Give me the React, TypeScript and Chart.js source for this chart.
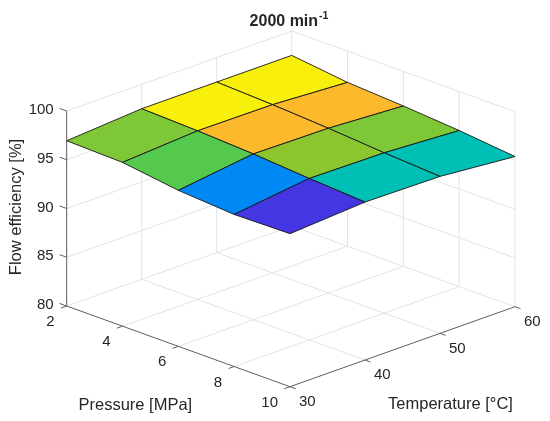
import React, { useEffect, useRef } from "react";
import { Chart, registerables } from "chart.js";

Chart.register(...registerables);

// ---------------- data ----------------
const PRESSURE = [2, 4, 6, 8, 10]; // MPa
const TEMPERATURE = [30, 40, 50, 60]; // °C
// flow efficiency [%], one array per pressure, values over TEMPERATURE
const EFF_P2 = [96.95, 97.5, 97.5, 97.5];
const EFF_P4 = [96.8, 97.3, 97.25, 96.8];
const EFF_P6 = [96.0, 97.0, 96.9, 96.45];
const EFF_P8 = [95.6, 96.55, 96.45, 96.0];
const EFF_P10 = [95.7, 96.2, 96.1, 95.4];
const EFFICIENCY = [EFF_P2, EFF_P4, EFF_P6, EFF_P8, EFF_P10];

const PRESSURE_TICKS = [2, 4, 6, 8, 10];
const TEMPERATURE_TICKS = [30, 40, 50, 60];
const EFF_TICKS = [80, 85, 90, 95, 100];
const P_LIM = [2, 10];
const T_LIM = [30, 60];
const Z_LIM = [80, 100];

const TITLE = "2000 min";
const TITLE_SUP = "-1";
const X_LABEL = "Pressure [MPa]";
const Y_LABEL = "Temperature [°C]";
const Z_LABEL = "Flow efficiency [%]";

// ---------------- view (orthographic projection, canvas units) ----------------
const VIEW = { ox: 66.7, oy: 306, px: 223.3, py: 80.7, tx: 225, ty: -80, zy: -195 };

function project(p: number, t: number, z: number) {
  const u = (p - P_LIM[0]) / (P_LIM[1] - P_LIM[0]);
  const v = (t - T_LIM[0]) / (T_LIM[1] - T_LIM[0]);
  const w = (z - Z_LIM[0]) / (Z_LIM[1] - Z_LIM[0]);
  return {
    x: VIEW.ox + u * VIEW.px + v * VIEW.tx,
    y: VIEW.oy + u * VIEW.py + v * VIEW.ty + w * VIEW.zy,
  };
}

// parula-like colormap
const CMAP: [number, string][] = [
  [0, "#3d26a8"],
  [0.095, "#4536e3"],
  [0.286, "#0088f5"],
  [0.5, "#00bfb5"],
  [0.55, "#00bfb5"],
  [0.667, "#55c94e"],
  [0.71, "#7ec838"],
  [0.74, "#7ec838"],
  [0.762, "#8cc52e"],
  [0.88, "#fcb92c"],
  [0.91, "#fcb92c"],
  [1, "#f8f00a"],
];

function hex(c: string) {
  return [1, 3, 5].map((i) => parseInt(c.slice(i, i + 2), 16));
}

function colormap(t: number) {
  t = Math.max(0, Math.min(1, t));
  for (let k = 1; k < CMAP.length; k++) {
    if (t <= CMAP[k][0]) {
      const [t0, c0] = CMAP[k - 1];
      const [t1, c1] = CMAP[k];
      const f = t1 === t0 ? 0 : (t - t0) / (t1 - t0);
      const a = hex(c0);
      const b = hex(c1);
      const m = a.map((x, i) => Math.round(x + (b[i] - x) * f));
      return `rgb(${m[0]},${m[1]},${m[2]})`;
    }
  }
  return CMAP[CMAP.length - 1][1];
}

const GRID = "#e3e3e3";
const AXIS = "#5e5e5e";
const TEXT = "#262626";
const FONT = '"Liberation Sans", Arial, Helvetica, sans-serif';

export default function App() {
  const ref = useRef<HTMLCanvasElement | null>(null);

  useEffect(() => {
    if (!ref.current) return;
    const draw: any[] = [];
    const seg = (a: any, b: any, color: string, width: number) =>
      draw.push({
        type: "line",
        data: [a, b],
        borderColor: color,
        borderWidth: width,
        pointRadius: 0,
        fill: false,
        tension: 0,
      });
    const P = (p: number, t: number, z: number) => project(p, t, z);

    // grid: floor
    PRESSURE_TICKS.filter((p) => p !== P_LIM[1]).forEach((p) =>
      seg(P(p, T_LIM[0], Z_LIM[0]), P(p, T_LIM[1], Z_LIM[0]), GRID, 1)
    );
    TEMPERATURE_TICKS.filter((t) => t !== T_LIM[0]).forEach((t) =>
      seg(P(P_LIM[0], t, Z_LIM[0]), P(P_LIM[1], t, Z_LIM[0]), GRID, 1)
    );
    // grid: wall at P = min
    TEMPERATURE_TICKS.filter((t) => t !== T_LIM[0]).forEach((t) =>
      seg(P(P_LIM[0], t, Z_LIM[0]), P(P_LIM[0], t, Z_LIM[1]), GRID, 1)
    );
    EFF_TICKS.filter((z) => z !== Z_LIM[0]).forEach((z) =>
      seg(P(P_LIM[0], T_LIM[0], z), P(P_LIM[0], T_LIM[1], z), GRID, 1)
    );
    // grid: wall at T = max
    PRESSURE_TICKS.filter((p) => p !== P_LIM[0]).forEach((p) =>
      seg(P(p, T_LIM[1], Z_LIM[0]), P(p, T_LIM[1], Z_LIM[1]), GRID, 1)
    );
    EFF_TICKS.filter((z) => z !== Z_LIM[0]).forEach((z) =>
      seg(P(P_LIM[0], T_LIM[1], z), P(P_LIM[1], T_LIM[1], z), GRID, 1)
    );

    // axes
    seg(P(P_LIM[0], T_LIM[0], Z_LIM[0]), P(P_LIM[1], T_LIM[0], Z_LIM[0]), AXIS, 1);
    seg(P(P_LIM[1], T_LIM[0], Z_LIM[0]), P(P_LIM[1], T_LIM[1], Z_LIM[0]), AXIS, 1);
    seg(P(P_LIM[0], T_LIM[0], Z_LIM[0]), P(P_LIM[0], T_LIM[0], Z_LIM[1]), AXIS, 1);
    const tl = 0.025;
    PRESSURE_TICKS.forEach((p) =>
      seg(P(p, T_LIM[0], Z_LIM[0]), P(p, T_LIM[0] - tl * (T_LIM[1] - T_LIM[0]), Z_LIM[0]), AXIS, 1)
    );
    TEMPERATURE_TICKS.forEach((t) =>
      seg(P(P_LIM[1], t, Z_LIM[0]), P(P_LIM[1] + tl * (P_LIM[1] - P_LIM[0]), t, Z_LIM[0]), AXIS, 1)
    );
    EFF_TICKS.forEach((z) =>
      seg(P(P_LIM[0], T_LIM[0], z), P(P_LIM[0] - 0.032 * (P_LIM[1] - P_LIM[0]), T_LIM[0], z), AXIS, 1)
    );

    // surface faces (back to front)
    const all = EFFICIENCY.flat();
    const cmin = Math.min(...all);
    const cmax = Math.max(...all);
    const faces: any[] = [];
    for (let i = 0; i < PRESSURE.length - 1; i++) {
      for (let j = 0; j < TEMPERATURE.length - 1; j++) {
        const v = [
          [i, j],
          [i + 1, j],
          [i + 1, j + 1],
          [i, j + 1],
          [i, j],
        ].map(([a, b]) => P(PRESSURE[a], TEMPERATURE[b], EFFICIENCY[a][b]));
        const depth = i + (TEMPERATURE.length - 2 - j);
        faces.push({
          depth,
          ds: {
            type: "line",
            data: v,
            borderColor: "#151515",
            borderWidth: 0.9,
            backgroundColor: colormap((EFFICIENCY[i][j] - cmin) / (cmax - cmin)),
            fill: "shape",
            pointRadius: 0,
            tension: 0,
          },
        });
      }
    }
    faces.sort((a, b) => a.depth - b.depth).forEach((f) => draw.push(f.ds));

    const n = draw.length;
    const datasets = draw.map((d, k) => ({ ...d, order: n - k }));

    const textPlugin = {
      id: "texts",
      afterDraw(chart: any) {
        const ctx = chart.ctx;
        const sx = chart.scales.x;
        const sy = chart.scales.y;
        const px = (pt: any) => ({ x: sx.getPixelForValue(pt.x), y: sy.getPixelForValue(pt.y) });
        ctx.save();
        ctx.fillStyle = TEXT;
        ctx.font = `15px ${FONT}`;
        ctx.textBaseline = "middle";
        ctx.textAlign = "right";
        PRESSURE_TICKS.forEach((p) => {
          const q = px(P(p, T_LIM[0], Z_LIM[0]));
          ctx.fillText(String(p), q.x - 12, q.y + 16);
        });
        EFF_TICKS.forEach((z) => {
          const q = px(P(P_LIM[0], T_LIM[0], z));
          ctx.fillText(String(z), q.x - 13, q.y - 1);
        });
        ctx.textAlign = "left";
        TEMPERATURE_TICKS.forEach((t) => {
          const q = px(P(P_LIM[1], t, Z_LIM[0]));
          ctx.fillText(String(t), q.x + 9, q.y + 15);
        });
        // axis labels
        ctx.font = `16.5px ${FONT}`;
        ctx.textAlign = "center";
        const xm = px(P((P_LIM[0] + P_LIM[1]) / 2, T_LIM[0], Z_LIM[0]));
        ctx.fillText(X_LABEL, xm.x - 43, xm.y + 59);
        const ym = px(P(P_LIM[1], (T_LIM[0] + T_LIM[1]) / 2, Z_LIM[0]));
        ctx.fillText(Y_LABEL, ym.x + 48, ym.y + 58);
        const zm = px(P(P_LIM[0], T_LIM[0], (Z_LIM[0] + Z_LIM[1]) / 2));
        ctx.save();
        ctx.translate(zm.x - 50.5, zm.y - 1.5);
        ctx.rotate(-Math.PI / 2);
        ctx.fillText(Z_LABEL, 0, 0);
        ctx.restore();
        // title
        ctx.font = `bold 16px ${FONT}`;
        const w1 = ctx.measureText(TITLE).width;
        ctx.font = `bold 10.5px ${FONT}`;
        const w2 = ctx.measureText(TITLE_SUP).width;
        const cx = 289;
        const left = cx - (w1 + w2 + 1) / 2;
        ctx.textAlign = "left";
        ctx.font = `bold 16px ${FONT}`;
        ctx.fillText(TITLE, left, 22);
        ctx.font = `bold 10.5px ${FONT}`;
        ctx.fillText(TITLE_SUP, left + w1 + 1, 16);
        ctx.restore();
      },
    };

    const chart = new Chart(ref.current, {
      type: "line",
      data: { datasets },
      options: {
        animation: false,
        responsive: false,
        maintainAspectRatio: false,
        layout: { padding: 0 },
        events: [],
        scales: {
          x: { type: "linear", min: 0, max: 550, display: false },
          y: { type: "linear", min: 0, max: 421, reverse: true, display: false },
        },
        plugins: {
          legend: { display: false },
          tooltip: { enabled: false },
          title: { display: false },
        },
        elements: { point: { radius: 0 } },
      } as any,
      plugins: [textPlugin],
    } as any);

    return () => chart.destroy();
  }, []);

  return (
    <div
      style={{
        position: "fixed",
        left: 0,
        top: 0,
        width: 550,
        height: 421,
        background: "#ffffff",
      }}
    >
      <canvas ref={ref} width={550} height={421} style={{ display: "block" }} />
    </div>
  );
}
